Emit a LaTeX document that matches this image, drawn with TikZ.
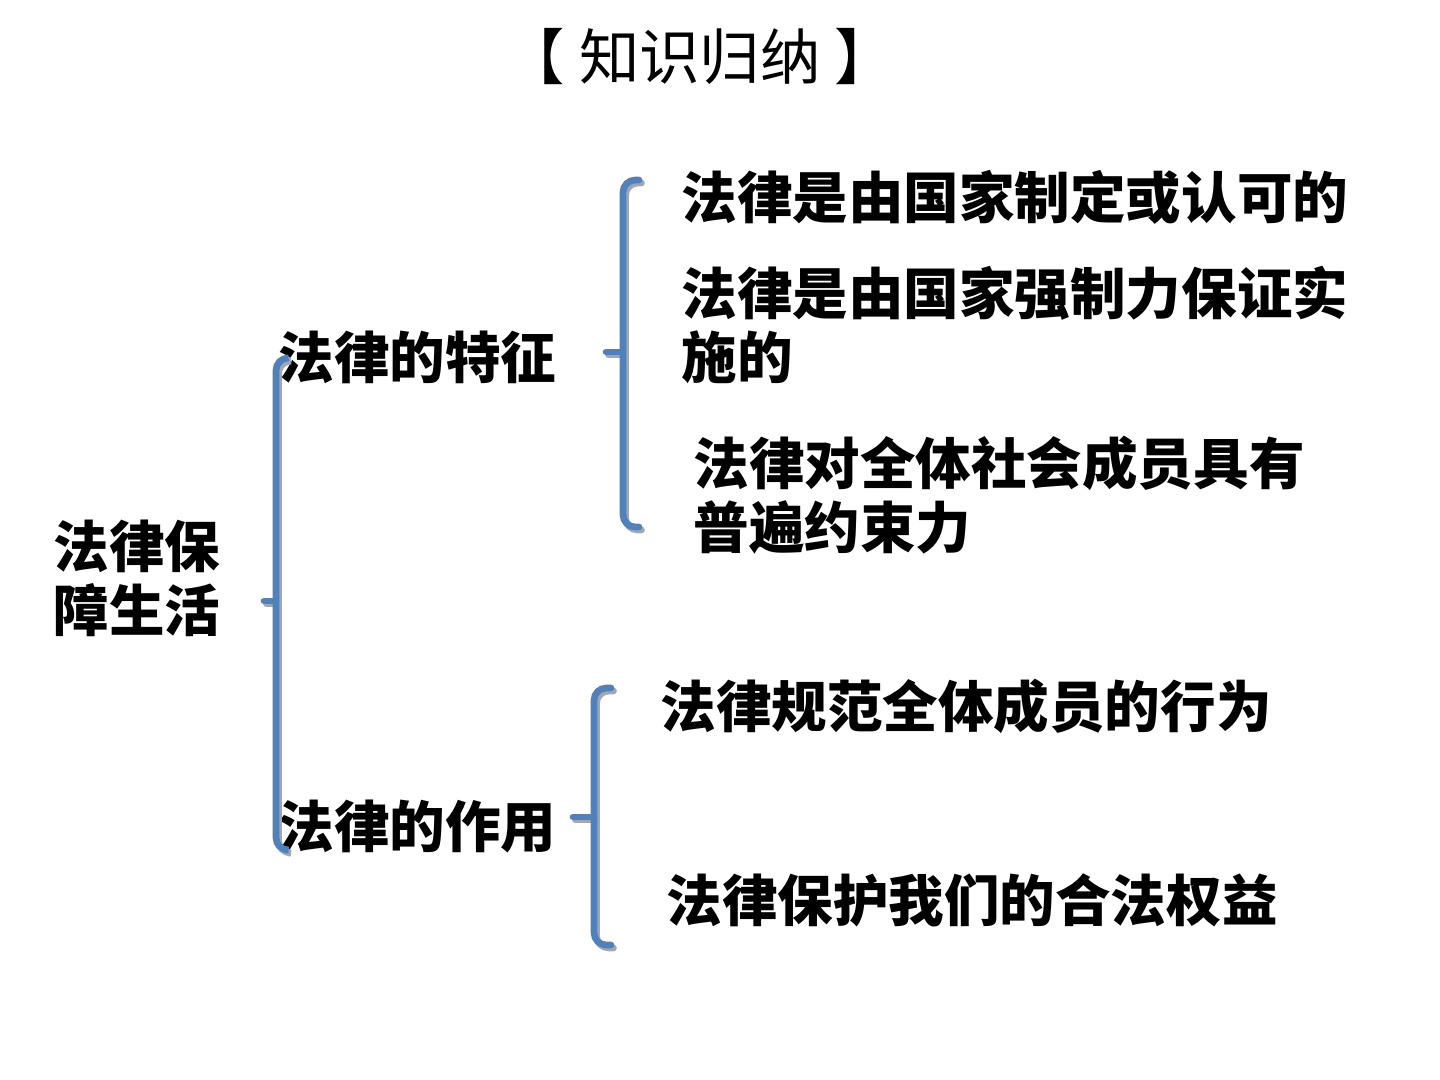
\documentclass[tikz,border=0pt]{standalone}
\usepackage{fontspec}
\newfontfamily\cjk{Noto Sans CJK SC}
\newcommand\brk[6]{% x, top, bottom, mid, end length, tick length
  \draw[brshadow,shift={(0.025,-0.03)}] ({#1+#5},#2) -- (#1,#2) -- (#1,#3) -- ({#1+#5},#3);
  \draw[brshadow,shift={(0.025,-0.03)}] (#1,#4) -- ({#1-#6},#4);
  \draw[brline] ({#1+#5},#2) -- (#1,#2) -- (#1,#3) -- ({#1+#5},#3);
  \draw[brline] (#1,#4) -- ({#1-#6},#4);
}
\definecolor{brblue}{HTML}{4F81BD}
\tikzset{
  brline/.style={draw=brblue,line width=1.9pt,rounded corners=3.5pt,line cap=round},
  brshadow/.style={draw=black!35,line width=1.9pt,rounded corners=3.5pt,line cap=round},
  item/.style={anchor=west,inner sep=0pt,align=left,font=\cjk\bfseries\fontsize{15.8}{18.2}\selectfont},
}
\begin{document}
\begin{tikzpicture}
\useasboundingbox (0,0) rectangle (14.4,-10.8);
\fill[white] (0,0) rectangle (14.4,-10.8);
\node[inner sep=0pt,font=\cjk\fontsize{17.2}{20}\selectfont] (title) at (7.0,-0.57) {【\kern4pt 知识归纳\kern4pt 】};
\node[item] (root) at (0.53,-5.785) {法律保\\障生活};
\node[item] (feat) at (2.78,-3.57) {法律的特征};
\node[item] (role) at (2.78,-8.27) {法律的作用};
\node[item] (f1) at (6.81,-1.97) {法律是由国家制定或认可的};
\node[item] (f2) at (6.81,-3.25) {法律是由国家强制力保证实\\施的};
\node[item] (f3) at (6.93,-4.95) {法律对全体社会成员具有\\普遍约束力};
\node[item] (r1) at (6.60,-7.06) {法律规范全体成员的行为};
\node[item] (r2) at (6.66,-9.00) {法律保护我们的合法权益};
\brk{2.76}{-3.58}{-8.50}{-6.01}{0.10}{0.12}
\brk{6.23}{-1.80}{-5.27}{-3.52}{0.16}{0.17}
\brk{5.94}{-6.88}{-9.45}{-8.17}{0.17}{0.21}
\end{tikzpicture}
\end{document}
